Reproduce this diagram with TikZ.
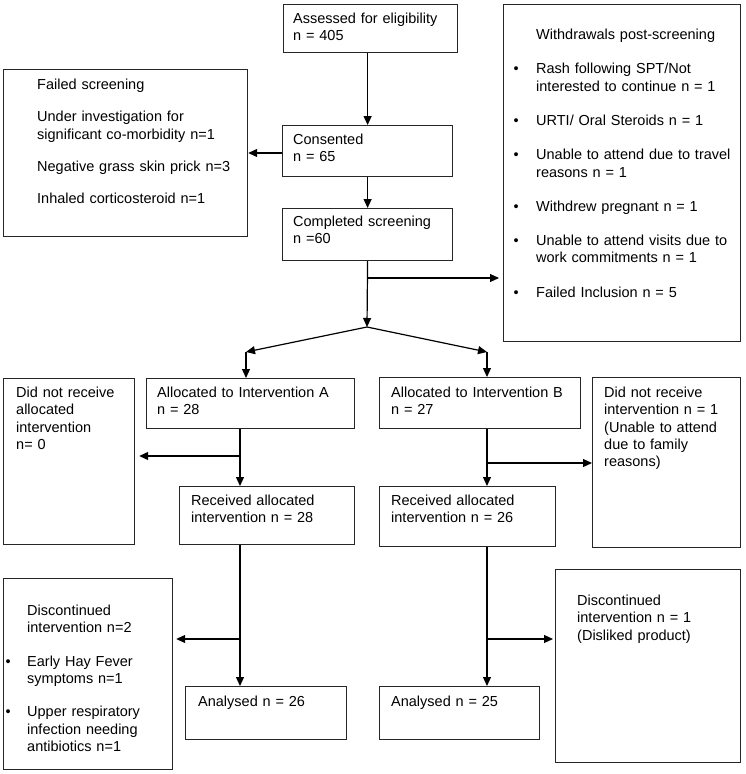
\documentclass[tikz,border=0pt]{standalone}
\usepackage{fontspec}
\setmainfont{Liberation Sans}
\usetikzlibrary{arrows.meta}
\begin{document}
\begin{tikzpicture}[x=1pt,y=-1pt,
  box/.style={draw=black!85, line width=1.2pt, inner sep=0pt, anchor=north west},
  txt/.style={anchor=base west, inner sep=0pt, align=left, text width=250pt},
  arr/.style={line width=1.2pt, -{Triangle[length=9pt,width=8pt]}},
  font=\fontsize{14.5}{17.3}\selectfont]
\useasboundingbox (0,0) rectangle (745,774);
\newcommand{\bx}[5]{\node[box, minimum width=#4-#2, minimum height=#5-#3] (#1) at (#2,#3) {};}
% boxes
\bx{assess}{283}{4}{457}{52}
\bx{failed}{3}{69}{247}{236}
\bx{consent}{282}{125}{452}{176}
\bx{complete}{282}{208}{452}{260}
\bx{withdraw}{503}{4}{740}{341}
\bx{allocA}{146}{378}{354}{428}
\bx{noA}{3}{378}{134}{544}
\bx{allocB}{379}{377}{580}{428}
\bx{noB}{592}{377}{740}{547}
\bx{recA}{179}{486}{354}{544}
\bx{recB}{379}{486}{555}{546}
\bx{anaA}{185}{686}{346}{739}
\bx{discA}{3}{578}{172}{769}
\bx{anaB}{379}{686}{539}{739}
\bx{discB}{555}{569}{740}{762}
% texts
\node[txt] (t-assess) at (293,23.5) {Assessed for eligibility\\n = 405};
\node[txt] (t-consent) at (293,144.5) {Consented\\n = 65};
\node[txt] (t-complete) at (293,226.5) {Completed screening\\n =60};
\node[txt] (t-failed) at (37,89.5) {Failed screening\\[15pt]Under investigation for\\significant co-morbidity n=1\\[15pt]Negative grass skin prick n=3\\[15pt]Inhaled corticosteroid n=1};
\node[txt] (t-withdraw) at (513.5,39.5) {\hspace*{22.5pt}Withdrawals post-screening\\[17pt]
\makebox[22.5pt][l]{\textbullet}Rash following SPT/Not\\
\hspace*{22.5pt}interested to continue n = 1\\[17pt]
\makebox[22.5pt][l]{\textbullet}URTI/ Oral Steroids n = 1\\[17pt]
\makebox[22.5pt][l]{\textbullet}Unable to attend due to travel\\
\hspace*{22.5pt}reasons n = 1\\[17pt]
\makebox[22.5pt][l]{\textbullet}Withdrew pregnant n = 1\\[17pt]
\makebox[22.5pt][l]{\textbullet}Unable to attend visits due to\\
\hspace*{22.5pt}work commitments n = 1\\[17pt]
\makebox[22.5pt][l]{\textbullet}Failed Inclusion n = 5};
\node[txt] (t-allocA) at (157,397.5) {Allocated to Intervention A\\n = 28};
\node[txt] (t-noA) at (16,397.5) {Did not receive\\allocated\\intervention\\n= 0};
\node[txt] (t-recA) at (191,505.5) {Received allocated\\intervention n = 28};
\node[txt] (t-allocB) at (391,397.5) {Allocated to Intervention B\\n = 27};
\node[txt] (t-noB) at (604,397.5) {Did not receive\\intervention n = 1\\(Unable to attend\\due to family\\reasons)};
\node[txt] (t-recB) at (391,505.5) {Received allocated\\intervention n = 26};
\node[txt] (t-anaA) at (198,706.5) {Analysed n = 26};
\node[txt] (t-anaB) at (391,706.5) {Analysed n = 25};
\node[txt] (t-discA) at (5.5,615.5) {\hspace*{21.5pt}Discontinued\\
\hspace*{21.5pt}intervention n=2\\[16pt]
\makebox[21.5pt][l]{\textbullet}Early Hay Fever\\
\hspace*{21.5pt}symptoms n=1\\[16pt]
\makebox[21.5pt][l]{\textbullet}Upper respiratory\\
\hspace*{21.5pt}infection needing\\
\hspace*{21.5pt}antibiotics n=1};
\node[txt] (t-discB) at (577,605.5) {Discontinued\\intervention n = 1\\(Disliked product)};
% coordinates
\coordinate (f1) at (282,153);
\coordinate (b1) at (367,278);
\coordinate (split) at (367,327);
\coordinate (ja) at (246,352);
\coordinate (jb) at (487,352);
\coordinate (a1) at (240,456);
\coordinate (a2) at (487,463);
\coordinate (a3) at (240,639);
\coordinate (a4) at (487,639);
% connectors
\draw[arr] (consent.north |- assess.south) -- (consent.north);
\draw[arr] (f1) -- (f1 -| failed.east);
\draw[arr] (consent.south) -- (complete.north);
\draw[arr] (complete.south) -- (split);
\draw[arr, shorten >=4pt] (b1) -- (b1 -| withdraw.west);
\draw[arr] (split) -- (ja);
\draw[arr] (split) -- (jb);
\draw[arr] (ja) -- (ja |- allocA.north);
\draw[arr] (jb) -- (jb |- allocB.north);
\draw[arr] (a1 |- allocA.south) -- (a1 |- recA.north);
\draw[arr, shorten >=4pt] (a1) -- (a1 -| noA.east);
\draw[arr] (a2 |- allocB.south) -- (a2 |- recB.north);
\draw[arr] (a2) -- (a2 -| noB.west);
\draw[arr] (a3 |- recA.south) -- (a3 |- anaA.north);
\draw[arr, shorten >=3pt] (a3) -- (a3 -| discA.east);
\draw[arr] (a4 |- recB.south) -- (a4 |- anaB.north);
\draw[arr, shorten >=2pt] (a4) -- (a4 -| discB.west);
\end{tikzpicture}
\end{document}
